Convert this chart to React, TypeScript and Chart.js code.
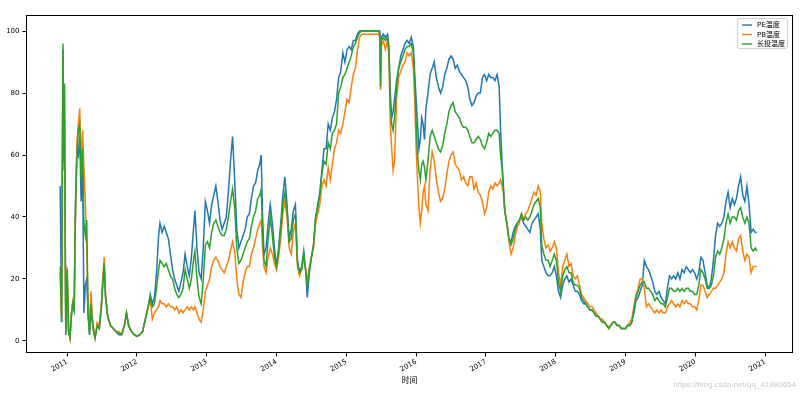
import React, { useEffect, useRef } from 'react';
import { Chart, registerables } from 'chart.js';
Chart.register(...registerables);

const dates = [
  2010.90, 2010.92, 2010.94, 2010.95, 2010.96, 2010.98, 2011.00, 2011.02, 2011.04, 2011.06, 2011.08, 2011.10, 2011.12, 2011.14, 2011.16, 2011.18, 2011.20, 2011.22, 2011.24, 2011.26, 2011.28, 2011.30, 2011.32, 2011.34, 2011.36, 2011.38, 2011.40, 2011.43, 2011.46, 2011.49, 2011.51, 2011.53, 2011.55, 2011.58,
  2011.62, 2011.66, 2011.70, 2011.74, 2011.78, 2011.82, 2011.85, 2011.88, 2011.92, 2011.96, 2012.00, 2012.04, 2012.08, 2012.12, 2012.16, 2012.19, 2012.22, 2012.25,
  2012.28, 2012.31, 2012.33, 2012.36, 2012.39, 2012.42, 2012.45, 2012.48, 2012.51, 2012.54, 2012.57, 2012.60, 2012.63, 2012.66, 2012.69, 2012.72, 2012.75, 2012.78, 2012.81, 2012.83, 2012.86, 2012.89, 2012.92, 2012.95, 2012.98,
  2013.01, 2013.04, 2013.07, 2013.10, 2013.13, 2013.16, 2013.19, 2013.22, 2013.25, 2013.28, 2013.31, 2013.34, 2013.37, 2013.40, 2013.43, 2013.46, 2013.49, 2013.52, 2013.55, 2013.58, 2013.61, 2013.64, 2013.67, 2013.70, 2013.73, 2013.76, 2013.78, 2013.80, 2013.82, 2013.85, 2013.88, 2013.91, 2013.94, 2013.97,
  2014.00, 2014.03, 2014.06, 2014.09, 2014.12, 2014.15, 2014.18, 2014.21, 2014.24, 2014.27, 2014.30, 2014.33, 2014.36, 2014.39, 2014.42, 2014.44, 2014.47, 2014.50, 2014.53, 2014.56, 2014.59, 2014.62, 2014.65, 2014.68, 2014.71, 2014.74, 2014.77, 2014.80, 2014.83, 2014.86, 2014.89, 2014.92, 2014.95, 2014.98,
  2015.01, 2015.04, 2015.07, 2015.10, 2015.13, 2015.16, 2015.19, 2015.22, 2015.26, 2015.30, 2015.34, 2015.38, 2015.42, 2015.46, 2015.48, 2015.49, 2015.50, 2015.53, 2015.56, 2015.59, 2015.61, 2015.63, 2015.65, 2015.67, 2015.69, 2015.72, 2015.75, 2015.78, 2015.81, 2015.84, 2015.87, 2015.90, 2015.93, 2015.96, 2015.98,
  2016.00, 2016.02, 2016.04, 2016.06, 2016.08, 2016.10, 2016.12, 2016.14, 2016.17, 2016.20, 2016.23, 2016.26, 2016.29, 2016.32, 2016.35, 2016.38, 2016.41, 2016.44, 2016.47, 2016.50, 2016.53, 2016.56, 2016.59, 2016.62, 2016.65, 2016.68, 2016.71, 2016.74, 2016.77, 2016.80, 2016.83, 2016.86, 2016.89, 2016.92, 2016.95, 2016.98,
  2017.01, 2017.04, 2017.07, 2017.10, 2017.13, 2017.16, 2017.19, 2017.21, 2017.23, 2017.25, 2017.27, 2017.30, 2017.33, 2017.36, 2017.39, 2017.42, 2017.45, 2017.48, 2017.51, 2017.54, 2017.57, 2017.60, 2017.63, 2017.66, 2017.69, 2017.72, 2017.75, 2017.78, 2017.80, 2017.83, 2017.86, 2017.89, 2017.92, 2017.95, 2017.98,
  2018.01, 2018.04, 2018.07, 2018.10, 2018.13, 2018.16, 2018.19, 2018.22, 2018.25, 2018.28, 2018.31, 2018.34, 2018.37, 2018.40, 2018.43, 2018.46, 2018.49, 2018.52, 2018.55, 2018.58, 2018.61, 2018.64, 2018.67, 2018.70, 2018.73, 2018.76, 2018.79, 2018.82, 2018.85, 2018.88, 2018.91, 2018.94, 2018.97,
  2019.00, 2019.03, 2019.06, 2019.09, 2019.12, 2019.15, 2019.18, 2019.21, 2019.24, 2019.27, 2019.30, 2019.33, 2019.36, 2019.39, 2019.42, 2019.45, 2019.48, 2019.51, 2019.54, 2019.57, 2019.60, 2019.63, 2019.66, 2019.69, 2019.72, 2019.75, 2019.78, 2019.81, 2019.84, 2019.87, 2019.90, 2019.93, 2019.96, 2019.99,
  2020.02, 2020.05, 2020.08, 2020.11, 2020.14, 2020.17, 2020.20, 2020.23, 2020.26, 2020.29, 2020.32, 2020.35, 2020.38, 2020.41, 2020.44, 2020.47, 2020.50, 2020.53, 2020.56, 2020.59, 2020.62, 2020.65, 2020.68, 2020.71, 2020.74, 2020.77, 2020.80, 2020.83, 2020.86, 2020.88,
];

const peTemp = [
  50, 6, 94, 60, 83, 2, 21, 3, 1, 8, 12, 10, 45, 62, 60, 66, 45, 58, 9, 18, 20, 8, 2, 10, 6, 3, 1, 5, 4, 11, 18, 24, 14, 8,
  5, 4, 3, 2, 2, 5, 9, 5, 3, 2, 1.5, 2, 3, 7, 11, 15, 12, 14,
  22, 34, 38, 35, 37, 35, 33, 28, 23, 20, 18, 16, 19, 22, 28, 24, 21, 27, 36, 42, 30, 22, 20, 30, 45,
  42, 38, 44, 47, 50, 45, 39, 36, 38, 40, 48, 58, 66, 52, 36, 30, 32, 34, 36, 40, 41, 46, 50, 51, 55, 57, 60, 40, 28, 30, 38, 44, 38, 30,
  24, 30, 38, 47, 53, 44, 33, 36, 42, 44, 26, 22, 24, 29, 22, 14, 22, 27, 31, 40, 44, 48, 55, 62, 62, 70, 68, 72, 74, 78, 85, 87, 93, 90,
  94, 95, 94, 97, 97, 99, 100, 100, 100, 100, 100, 100, 100, 100, 100, 86, 98, 99, 98, 99, 95, 80, 72, 74, 78, 84, 88, 92, 94, 96, 97, 96, 98, 95, 86,
  78, 70, 62, 65, 72, 70, 65, 75, 80, 86, 88, 90, 85, 82, 80, 82, 86, 88, 91, 92, 91, 88, 89, 87, 86, 85, 84, 82, 78, 76, 77, 79, 80, 80, 85, 86,
  84, 86, 85, 85, 84, 86, 82, 68, 58, 50, 42, 38, 33, 32, 35, 37, 38, 39, 40, 38, 37, 36, 35, 38, 39, 40, 41, 36, 26, 24, 22, 21, 21, 22, 24,
  21, 16, 14, 18, 20, 21, 19, 20, 18, 16, 16, 15, 13, 12, 12, 11, 10, 10, 9, 8, 8, 7, 6, 6, 5, 4, 5, 6, 6, 5, 5, 4, 4,
  4, 5, 5, 6, 9, 13, 14, 16, 18, 26, 24, 23, 21, 19, 16, 15, 16, 14, 13, 12, 17, 21, 20, 21, 20, 22, 20, 23, 22, 24, 23, 22, 23, 22,
  20, 22, 27, 26, 22, 18, 17, 20, 26, 34, 38, 37, 38, 40, 45, 48, 43, 46, 44, 46, 50, 53, 47, 45, 50, 44, 35, 36, 35, 35,
];

const pbTemp = [
  22, 8, 92, 55, 80, 3, 24, 4, 1, 9, 13, 11, 42, 64, 70, 75, 55, 68, 56, 45, 30, 12, 3, 16, 8, 4, 1, 6, 5, 12, 20, 27, 15, 8,
  5, 4, 3, 3, 2, 5, 9, 5, 3, 2, 1.5, 2, 3, 7, 11, 13, 7, 9,
  10, 11, 13, 12, 12, 11, 12, 11, 11, 10, 11, 9, 10, 9, 10, 11, 10, 11, 10, 11, 9, 7, 6, 10, 16,
  18, 20, 24, 26, 27, 26, 24, 23, 22, 24, 26, 29, 32, 29, 20, 15, 14, 19, 22, 24, 24, 28, 30, 33, 36, 38, 39, 30, 24, 22, 27, 30, 28, 25,
  23, 27, 33, 41, 45, 40, 30, 28, 35, 38, 24, 21, 23, 27, 23, 19, 24, 27, 30, 38, 41, 44, 50, 52, 50, 56, 52, 57, 62, 64, 68, 67, 70, 74,
  78, 77, 82, 86, 88, 94, 98, 99, 99, 99, 99, 99, 99, 99, 98, 81, 95, 97, 94, 97, 92, 70, 62, 55, 58, 78, 85, 87, 89, 90, 93, 92, 93, 88, 78,
  62, 52, 43, 38, 42, 48, 50, 44, 42, 55, 61, 58, 52, 48, 45, 46, 49, 54, 58, 60, 61, 57, 56, 55, 52, 53, 51, 50, 53, 53, 49, 51, 48, 47, 45, 41,
  43, 48, 50, 49, 51, 50, 51, 52, 50, 48, 42, 38, 32, 28, 30, 34, 37, 38, 41, 39, 41, 42, 44, 46, 48, 47, 50, 48, 38, 33, 30, 31, 29, 30, 32,
  30, 22, 18, 24, 26, 28, 24, 25, 21, 20, 21, 18, 15, 14, 13, 12, 11, 11, 10, 9, 8, 7, 7, 6, 5, 4.5, 5, 6, 6, 5, 5, 4, 4,
  4, 5, 6, 7, 11, 15, 17, 20, 20, 17, 11, 12, 11, 10, 9, 10, 9, 10, 9, 9, 11, 12, 13, 12, 11, 12, 11, 13, 12, 13, 12, 12, 11, 11,
  10, 13, 18, 18, 16, 14, 15, 16, 17, 17, 18, 19, 20, 22, 28, 32, 30, 32, 30, 29, 33, 34, 29, 26, 28, 27, 22, 24, 24, 24,
];

const longTemp = [
  24, 6, 96, 58, 83, 2, 23, 3, 1, 8, 12, 10, 44, 60, 68, 70, 52, 62, 38, 34, 39, 9, 2, 12, 7, 3, 1, 5, 4, 11, 19, 25, 14, 8,
  5, 4, 3, 2.5, 2, 5, 9, 5, 3, 2, 1.5, 2, 3, 7, 11, 14, 11, 12,
  17, 23, 26, 25, 24, 25, 23, 21, 20, 17, 15, 14, 15, 17, 23, 20, 17, 20, 26, 29, 20, 14, 12, 20, 31,
  32, 30, 35, 38, 39, 37, 35, 34, 34, 36, 40, 45, 49, 43, 30, 25, 26, 28, 30, 32, 33, 37, 40, 42, 46, 47, 49, 35, 26, 24, 33, 40, 34, 27,
  24, 29, 36, 44, 48, 42, 32, 33, 39, 41, 25, 22, 23, 28, 22, 18, 23, 27, 31, 40, 43, 47, 54, 58, 57, 64, 62, 67, 68, 70, 80, 82, 85, 86,
  88, 90, 92, 95, 96, 98, 99.5, 100, 100, 100, 100, 100, 100, 100, 99, 82, 97, 98, 97, 98, 94, 76, 70, 68, 72, 82, 88, 90, 92, 94, 95, 95, 96, 93, 84,
  70, 60, 55, 52, 57, 58, 56, 52, 58, 66, 68, 66, 64, 62, 61, 63, 67, 70, 74, 76, 77, 74, 73, 72, 70, 69, 69, 68, 66, 64, 64, 65, 66, 65, 63, 62,
  64, 67, 66, 67, 68, 68, 67, 60, 56, 49, 42, 38, 33, 31, 33, 36, 38, 39, 41, 39, 40, 39, 40, 42, 44, 45, 46, 43, 31, 28, 26, 26, 24, 26, 28,
  26, 19, 16, 21, 23, 24, 22, 22, 19, 18, 18, 17, 14, 13, 12, 11, 10, 10, 9, 8, 8, 7, 6, 6, 5, 4, 5, 6, 6, 5, 5, 4, 4,
  4, 5, 5, 6, 10, 14, 16, 18, 19, 19, 17, 17, 16, 15, 13, 14, 13, 12, 12, 11, 14, 17, 17, 16, 16, 17, 16, 17, 16, 17, 17, 16, 16, 15,
  15, 18, 23, 22, 20, 17, 17, 18, 21, 27, 29, 28, 30, 33, 38, 41, 38, 40, 40, 39, 42, 43, 40, 38, 40, 38, 30, 29, 30, 29,
];

const seriesLabels = ['PE温度', 'PB温度', '长投温度'];
const seriesColors = ['#1f77b4', '#ff7f0e', '#2ca02c'];
const xTickYears = [2011, 2012, 2013, 2014, 2015, 2016, 2017, 2018, 2019, 2020, 2021];
const yTickValues = [0, 20, 40, 60, 80, 100];
const xAxisTitle = '时间';
const watermarkText = 'https://blog.csdn.net/qq_41980654';

const FONT = '"DejaVu Sans", "Noto Sans CJK SC", sans-serif';

const framePlugin = {
  id: 'mplFrame',
  afterDatasetsDraw(chart: any) {
    const { ctx, chartArea: a } = chart;
    ctx.save();
    ctx.strokeStyle = '#000';
    ctx.lineWidth = 1;
    const l = Math.round(a.left) + 0.5;
    const t = Math.round(a.top) + 0.5;
    const r = Math.round(a.right) - 0.5;
    const b = Math.round(a.bottom) - 0.5;
    ctx.strokeRect(l, t, r - l, b - t);

    const bw = 50, bh = 30;
    const bx = Math.round(a.right) - 6 - bw;
    const by = Math.round(a.top) + 3;
    ctx.beginPath();
    (ctx as any).roundRect(bx + 0.5, by + 0.5, bw, bh, 2);
    ctx.fillStyle = 'rgba(255,255,255,0.85)';
    ctx.fill();
    ctx.strokeStyle = '#d0d0d0';
    ctx.stroke();
    ctx.font = '7px ' + FONT;
    ctx.textBaseline = 'middle';
    ctx.textAlign = 'left';
    chart.data.datasets.forEach((ds: any, i: number) => {
      const yy = by + 7 + i * 9.5;
      ctx.beginPath();
      ctx.strokeStyle = ds.borderColor;
      ctx.lineWidth = 1.4;
      ctx.moveTo(bx + 5, yy);
      ctx.lineTo(bx + 15, yy);
      ctx.stroke();
      ctx.fillStyle = '#000';
      ctx.fillText(ds.label, bx + 20, yy + 0.5);
    });
    ctx.restore();
  },
  afterDraw(chart: any) {
    const { ctx } = chart;
    ctx.save();
    ctx.font = '8px "Liberation Sans", sans-serif';
    ctx.fillStyle = 'rgba(190,190,190,0.85)';
    ctx.textAlign = 'right';
    ctx.textBaseline = 'middle';
    ctx.fillText(watermarkText, 796, 385);
    ctx.restore();
  },
};

export default function App() {
  const ref = useRef<HTMLCanvasElement | null>(null);
  useEffect(() => {
    if (!ref.current) return;
    const series = [peTemp, pbTemp, longTemp];
    const chart = new Chart(ref.current, {
      type: 'line',
      data: {
        datasets: series.map((vals, i) => ({
          label: seriesLabels[i],
          data: dates.map((d, j) => ({ x: d, y: vals[j] })),
          borderColor: seriesColors[i],
          backgroundColor: seriesColors[i],
          borderWidth: 1.5,
          pointRadius: 0,
          tension: 0,
          fill: false,
          order: 3 - i,
        })),
      },
      options: {
        animation: false,
        responsive: true,
        maintainAspectRatio: false,
        parsing: false as any,
        normalized: true,
        layout: { padding: { top: 15, right: 7, left: 0, bottom: 0 } },
        plugins: {
          legend: { display: false },
          tooltip: { enabled: false },
        },
        scales: {
          x: {
            type: 'linear',
            min: 2010.41,
            max: 2021.4,
            afterBuildTicks: (axis: any) => {
              axis.ticks = xTickYears.map((v) => ({ value: v }));
            },
            afterFit: (s: any) => {
              s.height = 43;
            },
            ticks: {
              autoSkip: false,
              minRotation: 30,
              maxRotation: 30,
              padding: 1,
              color: '#000',
              font: { size: 7, family: FONT },
              callback: (v: any) => String(v),
            },
            grid: { display: true, drawOnChartArea: false, drawTicks: true, tickLength: 3.5, color: '#000', lineWidth: 1 },
            border: { display: false },
            title: {
              display: true,
              text: xAxisTitle,
              color: '#000',
              font: { size: 8, family: '"Noto Sans CJK SC", sans-serif' },
              padding: { top: 0, bottom: 11 },
            },
          },
          y: {
            type: 'linear',
            min: -3.9,
            max: 105.2,
            afterBuildTicks: (axis: any) => {
              axis.ticks = yTickValues.map((v) => ({ value: v }));
            },
            afterFit: (s: any) => {
              s.width = 26;
            },
            ticks: {
              padding: 3,
              color: '#000',
              font: { size: 7, family: FONT },
              callback: (v: any) => String(v),
            },
            grid: { display: true, drawOnChartArea: false, drawTicks: true, tickLength: 3.5, color: '#000', lineWidth: 1 },
            border: { display: false },
          },
        },
      },
      plugins: [framePlugin],
    });
    return () => chart.destroy();
  }, []);
  return (
    <div style={{ position: 'fixed', left: 0, top: 0, width: 800, height: 396, background: '#fff' }}>
      <canvas ref={ref} />
    </div>
  );
}
